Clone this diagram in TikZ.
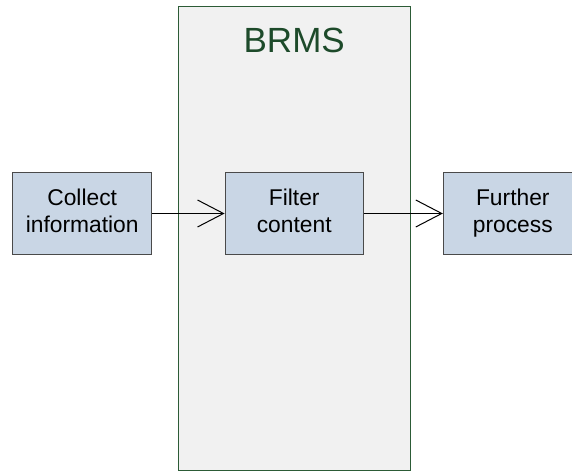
\documentclass[tikz,border=0pt]{standalone}
\usepackage{fontspec}
\setmainfont{Liberation Sans}
\usetikzlibrary{arrows.meta}
\definecolor{boxfill}{HTML}{C9D6E5}
\definecolor{boxline}{HTML}{4A4A4A}
\definecolor{panelfill}{HTML}{F1F1F1}
\definecolor{panelline}{HTML}{2C5B36}
\definecolor{paneltext}{HTML}{1D4A2A}
\tikzset{
  x=1pt, y=1pt,
  stage/.style={draw=boxline, fill=boxfill, line width=0.9pt, inner sep=0pt,
    minimum height=81.6pt, minimum width=139pt, align=center,
    font=\fontsize{22.8}{27.3}\selectfont},
  flow/.style={line width=1pt, -{Straight Barb[length=26pt,width=27pt,line width=1pt]}},
}
\begin{document}
\begin{tikzpicture}
  \useasboundingbox (0,0) rectangle (572,471);
  % BRMS panel
  \draw[draw=panelline, fill=panelfill, line width=1pt] (178,1) rectangle (410.5,464);
  \node[anchor=base, text=paneltext, font=\fontsize{35}{40}\selectfont] (title) at (294.2,418.3) {BRMS};
  % process stages (struts keep the two text lines at the same height in every box)
  \node[stage] (collect) at (82.2,257.5) {\strut Collect\\\strut information};
  \node[stage, minimum width=138.3pt] (filter) at (294.2,257.5) {\strut Filter\\\strut content};
  \node[stage] (further) at (512.8,257.5) {\strut Further\\\strut process};
  % connectors
  \draw[flow] (collect.east) -- (filter.west);
  \draw[flow] (filter.east) -- (further.west);
\end{tikzpicture}
\end{document}
